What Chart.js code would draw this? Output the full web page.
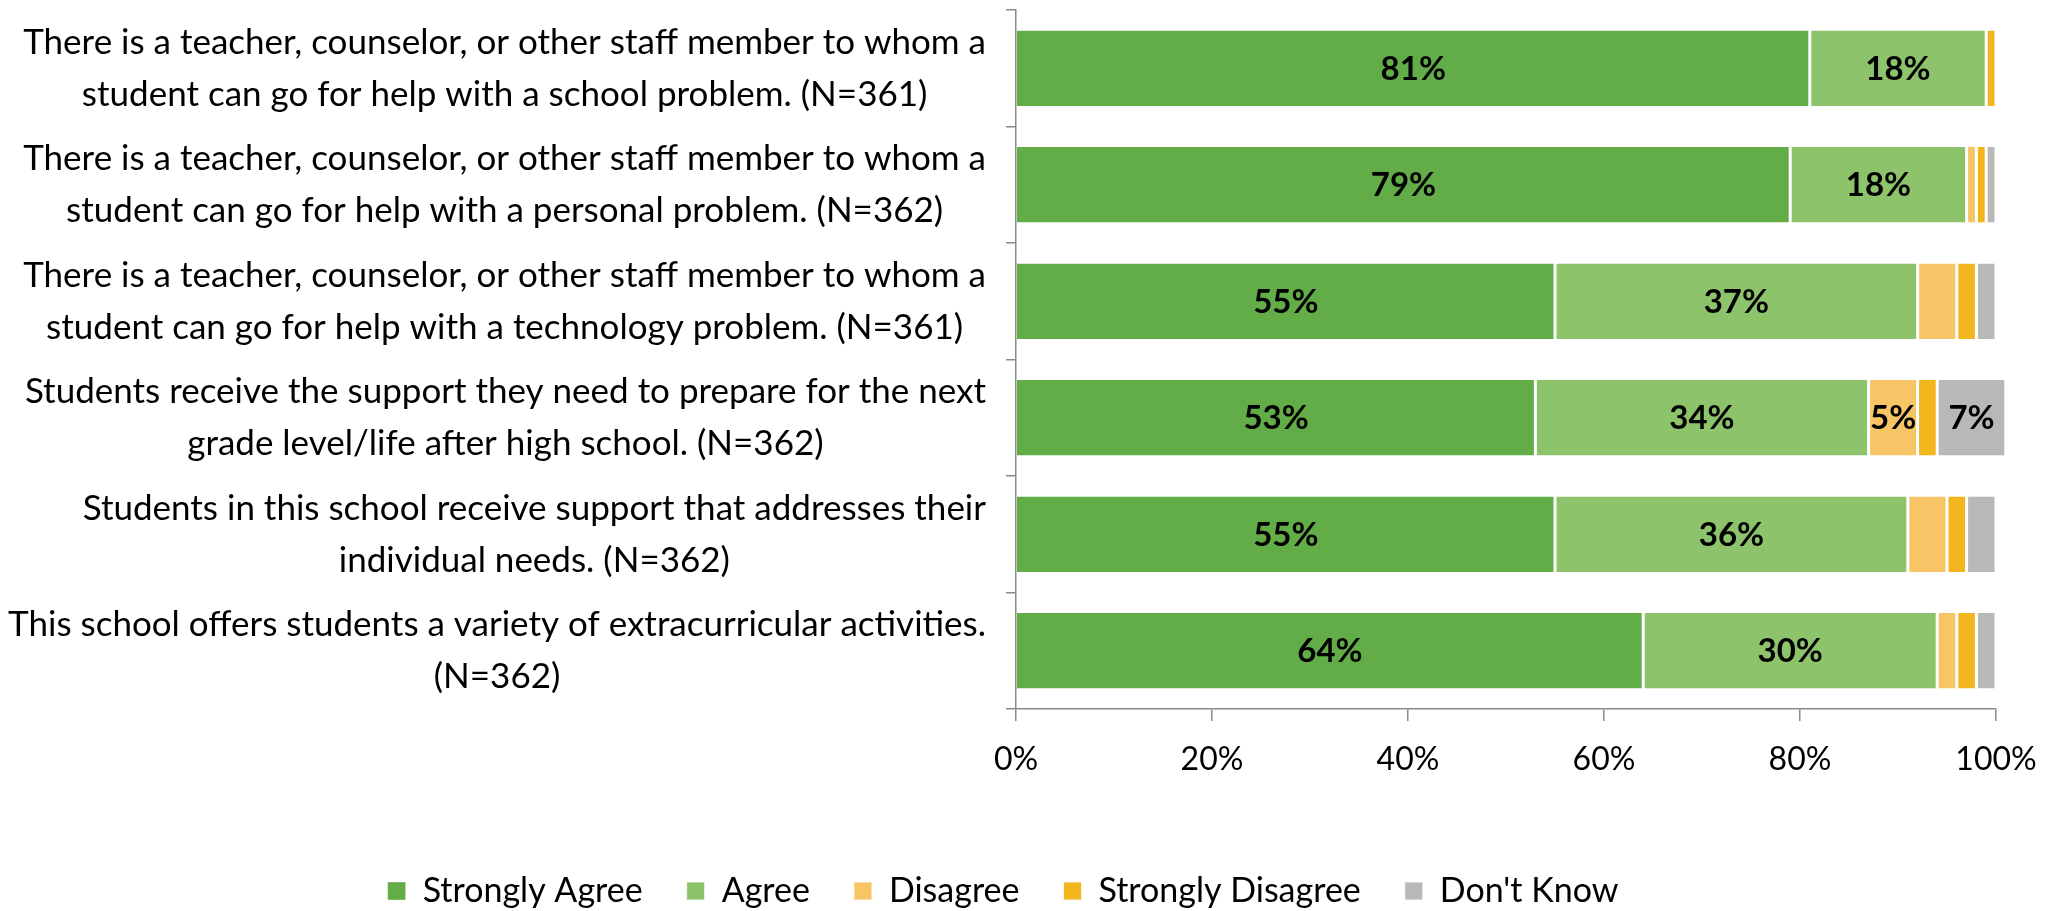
<!DOCTYPE html>
<html>
<head>
<meta charset="utf-8">
<script src="https://cdn.jsdelivr.net/npm/chart.js@4.4.0/dist/chart.umd.min.js"></script>
<style>
  html, body { margin: 0; padding: 0; background: #fff; }
  #wrap { width: 2056px; height: 911px; }
</style>
</head>
<body>
<div id="wrap"><canvas id="supportChart" width="2056" height="911"></canvas></div>
<script>
// survey items, each split into the lines it is printed on
const categories = [
  ["There is a teacher, counselor, or other staff member to whom a", "student can go for help with a school problem. (N=361)"],
  ["There is a teacher, counselor, or other staff member to whom a", "student can go for help with a personal problem. (N=362)"],
  ["There is a teacher, counselor, or other staff member to whom a", "student can go for help with a technology problem. (N=361)"],
  ["Students receive the support they need to prepare for the next", "grade level/life after high school. (N=362)"],
  ["Students in this school receive support that addresses their", "individual needs. (N=362)"],
  ["This school offers students a variety of extracurricular activities.", "(N=362)"]
];

const seriesNames = ["Strongly Agree", "Agree", "Disagree", "Strongly Disagree", "Don't Know"];
const seriesColors = ["#62ad47", "#8dc36a", "#f7c566", "#f2b51d", "#b8b8b8"];

const stronglyAgree    = [81, 79, 55, 53, 55, 64];
const agree            = [18, 18, 37, 34, 36, 30];
const disagree         = [0, 1, 4, 5, 4, 2];
const stronglyDisagree = [1, 1, 2, 2, 2, 2];
const dontKnow         = [0, 1, 2, 7, 3, 2];

const xTicks = [0, 20, 40, 60, 80, 100];

const FONT = "Lato, 'Open Sans', sans-serif";
const AXIS_GREY = "#8a8a8a";

Chart.defaults.font.family = FONT;
Chart.defaults.color = "#000";

const seriesValues = [stronglyAgree, agree, disagree, stronglyDisagree, dontKnow];

// percentages written on the wider segments
const barValueLabels = {
  id: "barValueLabels",
  afterDatasetsDraw(chart) {
    const ctx = chart.ctx;
    ctx.save();
    ctx.font = "bold 33px " + FONT;
    ctx.fillStyle = "#000";
    ctx.textAlign = "center";
    ctx.textBaseline = "middle";
    chart.data.datasets.forEach((ds, i) => {
      chart.getDatasetMeta(i).data.forEach((bar, j) => {
        const v = ds.data[j];
        if (v < 5) return;
        const c = bar.getCenterPoint();
        ctx.fillText(v + "%", c.x, c.y + 1);
      });
    });
    ctx.restore();
  }
};

// item text: block sits right against the axis, lines centred inside the block
const categoryLabels = {
  id: "categoryLabels",
  afterDraw(chart) {
    const yScale = chart.scales.y;
    const ctx = chart.ctx;
    ctx.save();
    ctx.font = "35px " + FONT;
    ctx.fillStyle = "#000";
    ctx.textAlign = "center";
    ctx.textBaseline = "middle";
    const right = chart.chartArea.left - 30;
    categories.forEach((lines, i) => {
      const y = yScale.getPixelForTick(i);
      const w = Math.max(...lines.map(l => ctx.measureText(l).width));
      const cx = right - w / 2;
      lines.forEach((line, k) => {
        ctx.fillText(line, cx, y + (k - (lines.length - 1) / 2) * 52);
      });
    });
    ctx.restore();
  }
};

const datasets = seriesNames.map((name, i) => ({
  label: name,
  data: seriesValues[i],
  backgroundColor: seriesColors[i],
  borderColor: "#fff",
  borderWidth: { left: i === 0 ? 0 : 1.5, right: 1.5, top: 0, bottom: 0 },
  borderSkipped: false,
  barPercentage: 0.65,
  categoryPercentage: 1,
  clip: false
}));

new Chart(document.getElementById("supportChart"), {
  type: "bar",
  data: {
    labels: categories.map(c => c.join(" ")),
    datasets: datasets
  },
  options: {
    responsive: false,
    animation: false,
    indexAxis: "y",
    layout: {
      padding: { left: 10, right: 60, top: 10, bottom: 0 }
    },
    scales: {
      x: {
        type: "linear",
        stacked: true,
        min: 0,
        max: 100,
        afterBuildTicks: scale => {
          scale.ticks = xTicks.map(v => ({ value: v }));
        },
        afterFit: scale => {
          scale.height = 121;
        },
        grid: {
          drawOnChartArea: false,
          drawTicks: true,
          tickLength: 12,
          color: AXIS_GREY,
          lineWidth: 1.5
        },
        border: { color: AXIS_GREY, width: 1.5 },
        ticks: {
          font: { size: 32 },
          color: "#000",
          padding: 19,
          callback: v => v + "%"
        }
      },
      y: {
        type: "category",
        stacked: true,
        offset: true,
        afterFit: scale => {
          scale.width = 1006;
        },
        grid: {
          offset: true,
          drawOnChartArea: false,
          drawTicks: true,
          tickLength: 10,
          color: AXIS_GREY,
          lineWidth: 1.5
        },
        border: { color: AXIS_GREY, width: 1.5 },
        ticks: { display: false }
      }
    },
    plugins: {
      legend: {
        position: "bottom",
        maxHeight: 81,
        labels: {
          boxWidth: 18,
          boxHeight: 18,
          padding: 44,
          color: "#000",
          font: { size: 34 }
        }
      },
      tooltip: { enabled: false }
    }
  },
  plugins: [barValueLabels, categoryLabels]
});
</script>
</body>
</html>
